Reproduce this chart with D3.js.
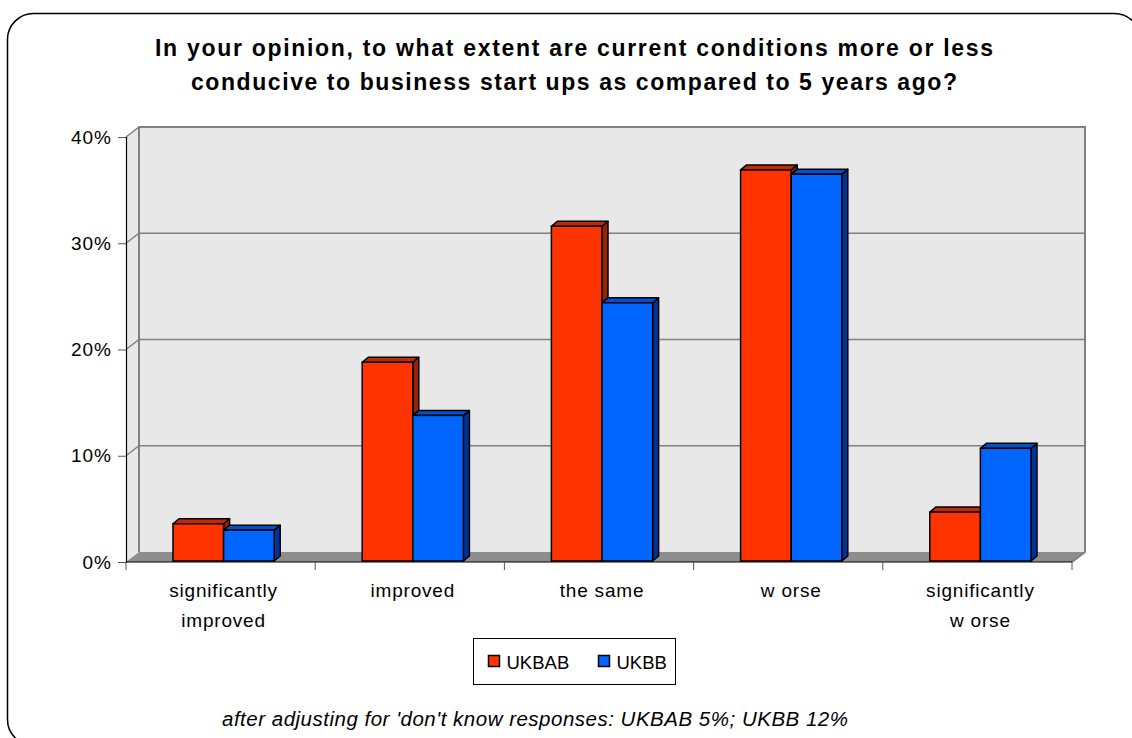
<!DOCTYPE html>
<html>
<head>
<meta charset="utf-8">
<script src="https://cdn.jsdelivr.net/npm/d3@7"></script>
<style>
  body { margin: 0; background: #fff; }
  text { font-family: Arial, "Liberation Sans", sans-serif; }
</style>
</head>
<body>
<div id="chart"></div>
<script>
// data
const categories = ["significantly improved", "improved", "the same", "w orse", "significantly w orse"];
const seriesNames = ["UKBAB", "UKBB"];
const ukbab = [0.036, 0.188, 0.316, 0.369, 0.047];
const ukbb = [0.030, 0.138, 0.244, 0.365, 0.107];
const yTicks = [0, 0.1, 0.2, 0.3, 0.4];
const titleLines = ["In your opinion, to what extent are current conditions more or less",
                    "conducive to business start ups as compared to 5 years ago?"];
const footnote = "after adjusting for 'don't know responses:  UKBAB 5%; UKBB 12%";

const W = 1132, H = 738;
const margin = {left: 126, right: 46, top: 137, bottom: 176};
const depth = {dx: 13, dy: -10};     // wall depth
const barDepth = {dx: 6, dy: -5};    // bar depth
const colors = {
  UKBAB: {front: "#FF3300", top: "#C42800", side: "#992200"},
  UKBB: {front: "#0066FF", top: "#0052CC", side: "#003399"}
};

const svg = d3.select("#chart").append("svg")
  .attr("width", W).attr("height", H);

// outer frame
svg.append("rect")
  .attr("x", 7.5).attr("y", 13.5)
  .attr("width", 1133).attr("height", 732)
  .attr("rx", 26).attr("ry", 26)
  .attr("fill", "#fff").attr("stroke", "#000").attr("stroke-width", 1.5);

// title (the original is set a bit wide)
const titleWidths = [838, 766];
svg.append("text")
  .attr("text-anchor", "middle")
  .attr("font-size", 23).attr("font-weight", "bold")
  .selectAll("tspan").data(titleLines).enter()
  .append("tspan")
    .attr("x", 574)
    .attr("y", (d, i) => 56 + i * 33.5)
    .attr("textLength", (d, i) => titleWidths[i])
    .attr("lengthAdjust", "spacing")
    .text(d => d);

const x0 = margin.left, x1 = W - margin.right - 14;
const yBottom = H - margin.bottom;

const x = d3.scaleBand()
  .domain(categories)
  .range([x0, x1])
  .paddingInner(0).paddingOuter(0);

const y = d3.scaleLinear()
  .domain([0, 0.4])
  .range([yBottom, margin.top]);

const g = svg.append("g");

// back wall
g.append("rect")
  .attr("x", x0 + depth.dx).attr("y", y(0.4) + depth.dy)
  .attr("width", x1 - x0).attr("height", y(0) - y(0.4))
  .attr("fill", "#E8E8E8");

// left wall
g.append("path")
  .attr("d", `M${x0},${y(0.4)} L${x0 + depth.dx},${y(0.4) + depth.dy} L${x0 + depth.dx},${y(0) + depth.dy} L${x0},${y(0)} Z`)
  .attr("fill", "#E8E8E8");

// floor
g.append("path")
  .attr("d", `M${x0},${y(0)} L${x0 + depth.dx},${y(0) + depth.dy} L${x1 + depth.dx},${y(0) + depth.dy} L${x1},${y(0)} Z`)
  .attr("fill", "#8E8E8E");

// gridlines on back wall and left wall
g.selectAll(".grid").data(yTicks.filter(d => d > 0)).enter()
  .append("path")
  .attr("d", d => `M${x0},${y(d)} L${x0 + depth.dx},${y(d) + depth.dy} L${x1 + depth.dx},${y(d) + depth.dy}`)
  .attr("fill", "none").attr("stroke", "#808080").attr("stroke-width", 1.5);

// wall edges
g.append("path")
  .attr("d", `M${x0 + depth.dx},${y(0) + depth.dy} L${x0 + depth.dx},${y(0.4) + depth.dy} L${x1 + depth.dx},${y(0.4) + depth.dy} L${x1 + depth.dx},${y(0) + depth.dy} L${x1},${y(0)}`)
  .attr("fill", "none").attr("stroke", "#808080").attr("stroke-width", 2);

// y axis
const yAxis = g.append("g")
  .attr("transform", `translate(${x0},0)`)
  .call(d3.axisLeft(y).tickValues(yTicks).tickFormat(d3.format(".0%")).tickSize(8).tickPadding(6));
yAxis.select(".domain").attr("stroke", "#000").attr("stroke-width", 1.2);
yAxis.selectAll(".tick line").attr("stroke", "#555");
yAxis.selectAll("text").attr("font-size", 19).attr("fill", "#000")
  .attr("letter-spacing", 1)
  .style("font-family", "Arial, 'Liberation Sans', sans-serif");

// x axis line + ticks at band edges
const xAxis = g.append("g")
  .attr("transform", `translate(0,${yBottom})`);
xAxis.append("line")
  .attr("x1", x0).attr("x2", x1)
  .attr("stroke", "#000").attr("stroke-width", 1.2);
const edges = categories.map(c => x(c)).concat([x1]);
xAxis.selectAll(".xt").data(edges).enter()
  .append("line")
  .attr("x1", d => d).attr("x2", d => d)
  .attr("y1", 0).attr("y2", 8)
  .attr("stroke", "#555");

// category labels (wrapped)
const labelLines = {
  "significantly improved": ["significantly", "improved"],
  "significantly w orse": ["significantly", "w orse"]
};
xAxis.selectAll(".xl").data(categories).enter()
  .append("text")
  .attr("text-anchor", "middle")
  .attr("font-size", 19)
  .attr("letter-spacing", 0.8)
  .each(function(d) {
    const lines = labelLines[d] || [d];
    d3.select(this).selectAll("tspan").data(lines).enter()
      .append("tspan")
      .attr("x", x(d) + x.bandwidth() / 2 + 3)
      .attr("y", (l, i) => 35 + i * 30)
      .text(l => l);
  });

// bars
const inner = d3.scaleBand()
  .domain(seriesNames)
  .range([0, x.bandwidth() * 0.535]);
const groupOffset = (x.bandwidth() - x.bandwidth() * 0.535) / 2 + 3;

const barData = [];
categories.forEach((c, i) => {
  barData.push({cat: c, s: "UKBAB", v: ukbab[i]});
  barData.push({cat: c, s: "UKBB", v: ukbb[i]});
});

const bars = g.selectAll(".bar").data(barData).enter()
  .append("g").attr("class", "bar");

bars.each(function(d) {
  const bx = x(d.cat) + groupOffset + inner(d.s);
  const bw = inner.bandwidth();
  const top = y(d.v), bot = y(0) - 1;
  const sel = d3.select(this);
  const c = colors[d.s];
  // side
  sel.append("path")
    .attr("d", `M${bx + bw},${bot} L${bx + bw + barDepth.dx},${bot + barDepth.dy} L${bx + bw + barDepth.dx},${top + barDepth.dy} L${bx + bw},${top} Z`)
    .attr("fill", c.side).attr("stroke", "#000").attr("stroke-width", 1.5).attr("stroke-linejoin", "round");
  // top
  sel.append("path")
    .attr("d", `M${bx},${top} L${bx + barDepth.dx},${top + barDepth.dy} L${bx + bw + barDepth.dx},${top + barDepth.dy} L${bx + bw},${top} Z`)
    .attr("fill", c.top).attr("stroke", "#000").attr("stroke-width", 1.5).attr("stroke-linejoin", "round");
  // front
  sel.append("rect")
    .attr("x", bx).attr("y", top)
    .attr("width", bw).attr("height", bot - top)
    .attr("fill", c.front).attr("stroke", "#000").attr("stroke-width", 1.5);
});

// legend
const legend = svg.append("g").attr("transform", "translate(473.5,638.5)");
legend.append("rect")
  .attr("width", 202).attr("height", 46)
  .attr("fill", "#fff").attr("stroke", "#000").attr("stroke-width", 1);
const legX = [15, 125];
seriesNames.forEach((s, i) => {
  legend.append("rect")
    .attr("x", legX[i]).attr("y", 17).attr("width", 11).attr("height", 11)
    .attr("fill", colors[s].front).attr("stroke", "#000").attr("stroke-width", 1.5);
  legend.append("text")
    .attr("x", legX[i] + 18).attr("y", 30)
    .attr("font-size", 18.5)
    .text(s);
});

// footnote
svg.append("text")
  .attr("x", 535).attr("y", 726)
  .attr("text-anchor", "middle")
  .attr("font-size", 20.5).attr("font-style", "italic")
  .attr("textLength", 626).attr("lengthAdjust", "spacing")
  .text(footnote);
</script>
</body>
</html>
